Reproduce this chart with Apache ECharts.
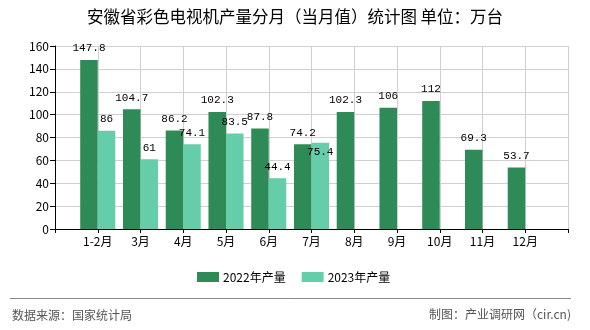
<!DOCTYPE html>
<html>
<head>
<meta charset="utf-8">
<script src="https://cdn.jsdelivr.net/npm/echarts@6/dist/echarts.min.js"></script>
<style>
html,body{margin:0;padding:0;background:#fff;}
#chart{width:590px;height:330px;}
</style>
</head>
<body>
<div id="chart"></div>
<script>
const categories = ['', '1-2月', '3月', '4月', '5月', '6月', '7月', '8月', '9月', '10月', '11月', '12月', ''];
const values2022 = [null, 147.8, 104.7, 86.2, 102.3, 87.8, 74.2, 102.3, 106, 112, 69.3, 53.7, null];
const values2023 = [null, 86, 61, 74.1, 83.5, 44.4, 75.4, null, null, null, null, null, null];
const yTicks = [0, 20, 40, 60, 80, 100, 120, 140, 160];
const seriesNames = ['2022年产量', '2023年产量'];
const titleText = '安徽省彩色电视机产量分月（当月值）统计图 单位：万台';
const sourceText = '数据来源：国家统计局';
const creditText = '制图：产业调研网（cir.cn)';

const cjk = '"Noto Sans CJK SC", "Noto Sans", sans-serif';
const mono = '"Liberation Mono", "DejaVu Sans Mono", monospace';

const chart = echarts.init(document.getElementById('chart'), null, {renderer: 'canvas'});

const labelStyle = {
  show: true,
  position: 'top',
  distance: 6,
  color: '#000',
  fontFamily: mono,
  fontSize: 11
};

const data2023 = values2023.map((v, i) => {
  if (v === null) return '-';
  if (categories[i] === '7月') return {value: v, label: {offset: [0, 21]}};
  return v;
});

chart.setOption({
  animation: false,
  title: {
    text: titleText,
    left: 'center',
    top: 3,
    textStyle: {fontFamily: cjk, fontSize: 16.5, fontWeight: 'normal', color: '#000'}
  },
  legend: {
    data: seriesNames,
    left: 192,
    top: 266,
    itemWidth: 22,
    itemHeight: 10,
    itemGap: 16,
    icon: 'rect',
    textStyle: {fontFamily: cjk, fontSize: 12, color: '#000', padding: [0, 0, 0, -1]}
  },
  grid: {left: 55, right: 22, top: 46, bottom: 101, containLabel: false},
  xAxis: {
    type: 'category',
    data: categories,
    boundaryGap: false,
    axisLine: {lineStyle: {color: '#000', width: 1}},
    axisTick: {show: true, interval: 0, length: 4, lineStyle: {color: '#000'}},
    axisLabel: {interval: 0, color: '#000', fontFamily: cjk, fontSize: 12, margin: 6},
    splitLine: {show: true, interval: 0, lineStyle: {color: '#d0d0d0', width: 1}}
  },
  yAxis: {
    type: 'value',
    min: yTicks[0],
    max: yTicks[yTicks.length - 1],
    interval: yTicks[1] - yTicks[0],
    axisLine: {show: true, lineStyle: {color: '#000', width: 1}},
    axisTick: {show: true, length: 5, lineStyle: {color: '#000'}},
    axisLabel: {color: '#000', fontFamily: cjk, fontSize: 12, margin: 6},
    splitLine: {show: true, lineStyle: {color: '#d0d0d0', width: 1}}
  },
  series: [
    {
      name: seriesNames[0],
      type: 'bar',
      data: values2022.map(v => v === null ? '-' : v),
      itemStyle: {color: '#2E8B57'},
      barGap: '0%',
      barCategoryGap: '18%',
      label: labelStyle
    },
    {
      name: seriesNames[1],
      type: 'bar',
      data: data2023,
      itemStyle: {color: '#66CDAA'},
      barGap: '0%',
      barCategoryGap: '18%',
      label: labelStyle
    }
  ],
  graphic: [
    {type: 'line', shape: {x1: 10, y1: 298.5, x2: 571, y2: 298.5}, style: {stroke: '#888', lineWidth: 1}},
    {type: 'text', left: 12, top: 309, style: {text: sourceText, font: '12px ' + cjk, fill: '#555'}},
    {type: 'text', right: 19, top: 308, style: {text: creditText, font: '12px ' + cjk, fill: '#555'}}
  ]
});
</script>
</body>
</html>
